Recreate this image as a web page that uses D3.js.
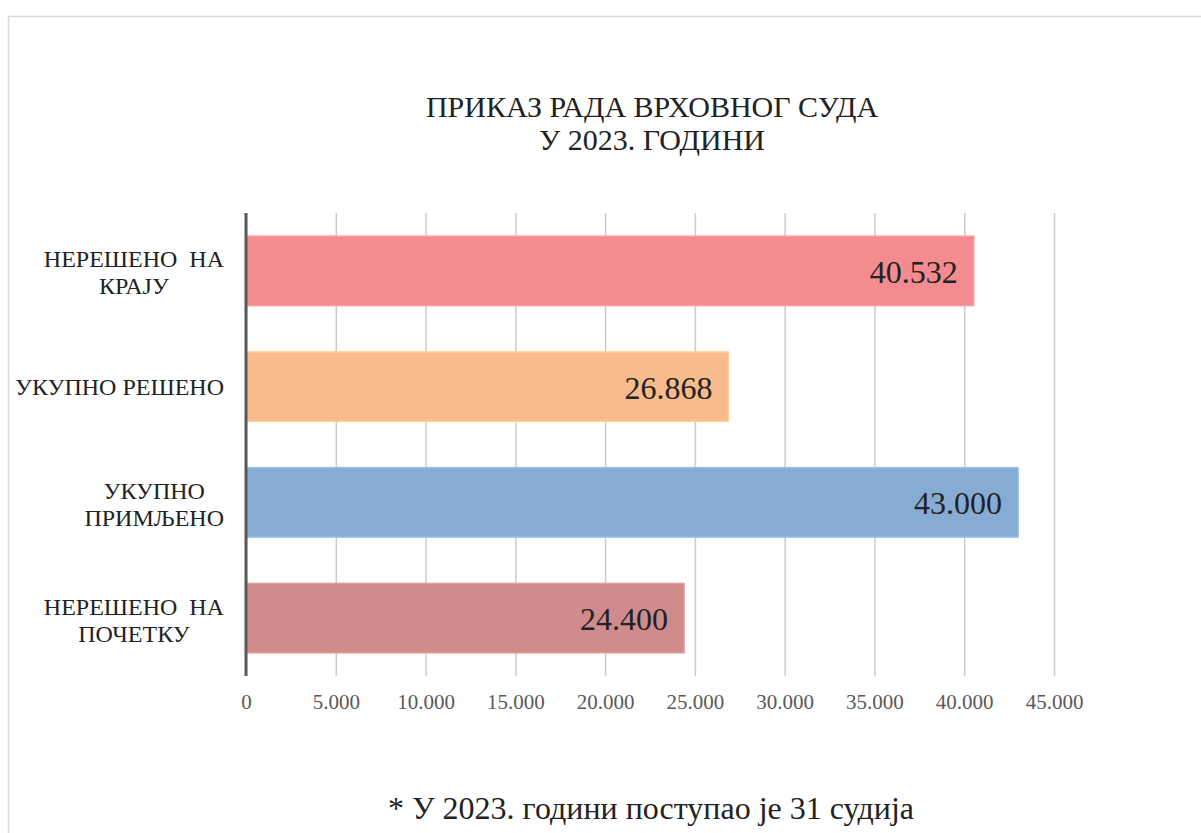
<!DOCTYPE html>
<html>
<head>
<meta charset="utf-8">
<script src="https://cdn.jsdelivr.net/npm/d3@7"></script>
</head>
<body style="margin:0;background:#fff">
<div id="chart"></div>
<script>
// data
var categories = [["НЕРЕШЕНО  НА", "КРАЈУ"], ["УКУПНО РЕШЕНО"], ["УКУПНО", "ПРИМЉЕНО"], ["НЕРЕШЕНО  НА", "ПОЧЕТКУ"]];
var values = [40532, 26868, 43000, 24400];
var barColors = ["#f38b8f", "#f8bb8c", "#86acd3", "#d08c8c"];
var tickValues = [0, 5000, 10000, 15000, 20000, 25000, 30000, 35000, 40000, 45000];
var titleLines = ["ПРИКАЗ РАДА ВРХОВНОГ СУДА", "У 2023. ГОДИНИ"];
var footnote = "* У 2023. години поступао је 31 судија";

var SERIF = "Tinos, 'Liberation Serif', serif";
var W = 1201, H = 833;
var margin = {top: 213, right: 147, bottom: 157, left: 246},
    width = W - margin.left - margin.right,
    height = H - margin.top - margin.bottom;

var fmt = function(v) { return d3.format(",")(v).replace(/,/g, "."); };

var svg = d3.select("#chart").append("svg")
    .attr("width", W)
    .attr("height", H)
    .style("display", "block")
    .style("font-family", SERIF);

// outer frame (runs off the right and bottom)
svg.append("rect")
    .attr("x", 8.5).attr("y", 16.5)
    .attr("width", W).attr("height", H)
    .attr("fill", "none")
    .attr("stroke", "#d9d9d9")
    .attr("stroke-width", 1.5);

svg.append("text")
    .attr("x", 652).attr("y", 117)
    .attr("text-anchor", "middle")
    .style("font-family", SERIF)
    .attr("font-size", 30)
    .attr("fill", "#222")
    .selectAll("tspan")
    .data(titleLines)
    .enter().append("tspan")
    .attr("x", 652)
    .attr("dy", function(d, i) { return i ? 33 : 0; })
    .text(function(d) { return d; });

var g = svg.append("g")
    .attr("transform", "translate(" + margin.left + "," + margin.top + ")");

var x = d3.scaleLinear().domain([0, 45000]).range([0, 808]);
var y = d3.scaleBand().domain(d3.range(values.length)).range([0, height]).paddingInner(0.4).paddingOuter(0.2);

// grid
g.append("g")
    .call(d3.axisBottom(x).tickValues(tickValues).tickSize(height).tickFormat(""))
    .call(function(a) { a.select(".domain").remove(); })
    .selectAll("line")
    .attr("stroke", "#cccccc")
    .attr("stroke-width", 1.5);

// tick labels
g.append("g")
    .attr("transform", "translate(0," + height + ")")
    .call(d3.axisBottom(x).tickValues(tickValues).tickSize(0).tickPadding(18).tickFormat(fmt))
    .call(function(a) { a.select(".domain").remove(); })
    .selectAll("text")
    .style("font-family", SERIF)
    .attr("font-size", 21)
    .attr("fill", "#595959");

// bars
g.selectAll(".bar")
    .data(values)
    .enter().append("rect")
    .attr("class", "bar")
    .attr("x", x(0))
    .attr("y", function(d, i) { return y(i); })
    .attr("width", function(d) { return x(d) - x(0); })
    .attr("height", y.bandwidth())
    .attr("fill", function(d, i) { return barColors[i]; })
    .attr("stroke", function(d, i) { return d3.color(barColors[i]).brighter(0.3); })
    .attr("stroke-width", 1.5);

g.selectAll(".val")
    .data(values)
    .enter().append("text")
    .attr("class", "val")
    .attr("x", function(d) { return x(d) - 16; })
    .attr("y", function(d, i) { return y(i) + y.bandwidth() / 2 + 12; })
    .attr("text-anchor", "end")
    .style("font-family", SERIF)
    .attr("font-size", 32)
    .attr("fill", "#222")
    .text(fmt);

// category labels
var lab = g.selectAll(".cat")
    .data(categories)
    .enter().append("text")
    .attr("class", "cat")
    .style("font-family", SERIF)
    .style("white-space", "pre")
    .attr("font-size", 24)
    .attr("fill", "#222")
    .attr("text-anchor", "middle")
    .attr("y", function(d, i) { return y(i) + y.bandwidth() / 2 + 8.5 - (d.length - 1) * 12; });

lab.each(function(d) {
    var t = d3.select(this);
    t.selectAll("tspan").data(d).enter().append("tspan")
        .text(function(s) { return s; });
    // right-align the whole block, centre lines inside it
    var w = d3.max(t.selectAll("tspan").nodes(), function(n) { return n.getComputedTextLength(); });
    var cx = -22 - w / 2;
    t.selectAll("tspan")
        .attr("x", cx)
        .attr("dy", function(s, i) { return i ? 27 : 0; });
});

// vertical axis line
g.append("line")
    .attr("x1", 0).attr("x2", 0)
    .attr("y1", 0).attr("y2", height)
    .attr("stroke", "#595959")
    .attr("stroke-width", 3);

svg.append("text")
    .attr("x", 651).attr("y", 819)
    .attr("text-anchor", "middle")
    .style("font-family", SERIF)
    .attr("font-size", 32)
    .attr("fill", "#222")
    .text(footnote);
</script>
</body>
</html>
